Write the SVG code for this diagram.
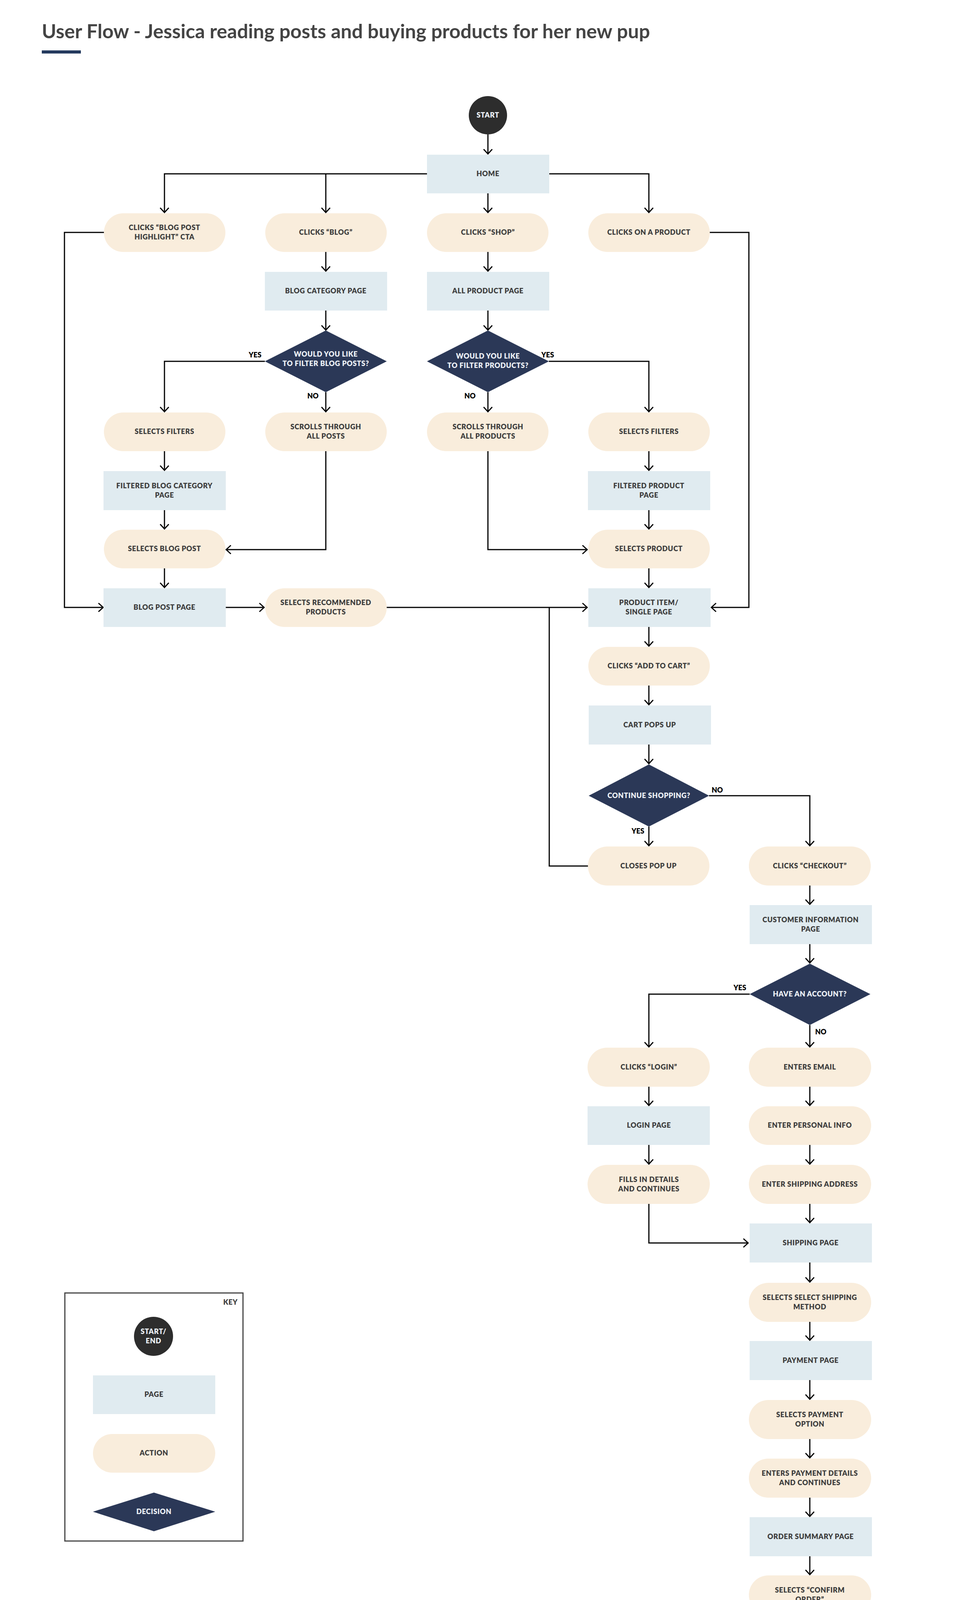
<svg xmlns="http://www.w3.org/2000/svg" width="2460" height="4588" viewBox="0 0 2460 4588">
<defs>
<marker id="ah" viewBox="-2 -13 16 26" refX="12" refY="0" markerWidth="16" markerHeight="26" markerUnits="userSpaceOnUse" orient="auto"><path d="M0,-11 L12,0 L0,11" fill="none" stroke="#000" stroke-width="3"/></marker>
<style>
.pg{fill:#e0ebf0}.ac{fill:#f9eddc}.dc{fill:#2b3857}.se{fill:#2d2d2d}
.t{font-family:Lato,"Noto Sans",sans-serif;font-weight:800;font-size:18px;letter-spacing:0.6px;fill:#3d3d3d;text-anchor:middle}
.tw{font-family:Lato,"Noto Sans",sans-serif;font-weight:800;font-size:18px;letter-spacing:0.6px;fill:#eef2f7;text-anchor:middle}
.lb{font-family:Lato,"Noto Sans",sans-serif;font-weight:800;font-size:18px;fill:#000;text-anchor:middle}
.c{fill:none;stroke:#000;stroke-width:3}
</style>
</defs>
<rect width="2460" height="4588" fill="#fff"/>
<text x="107" y="98" font-family="Lato,'Noto Sans',sans-serif" font-weight="700" font-size="49" fill="#444" textLength="1557" lengthAdjust="spacingAndGlyphs">User Flow - Jessica reading posts and buying products for her new pup</text>
<rect x="107" y="129" width="100" height="8" fill="#243a5e"/>

<g id="connectors" class="c">
<path d="M1249 344V394" marker-end="url(#ah)"/>
<path d="M1093 445H421V544" marker-end="url(#ah)"/>
<path d="M834 445V544" marker-end="url(#ah)"/>
<path d="M1249 495V544" marker-end="url(#ah)"/>
<path d="M1406 445H1661V544" marker-end="url(#ah)"/>
<path d="M266 595H165V1555H264" marker-end="url(#ah)"/>
<path d="M1816 595H1917V1555H1821" marker-end="url(#ah)"/>
<path d="M834 645V694" marker-end="url(#ah)"/>
<path d="M1249 645V694" marker-end="url(#ah)"/>
<path d="M834 795V845" marker-end="url(#ah)"/>
<path d="M1249 795V845" marker-end="url(#ah)"/>
<path d="M678 925H421V1054" marker-end="url(#ah)"/>
<path d="M834 1004V1054" marker-end="url(#ah)"/>
<path d="M1249 1004V1054" marker-end="url(#ah)"/>
<path d="M1405 925H1661V1054" marker-end="url(#ah)"/>
<path d="M421 1155V1204" marker-end="url(#ah)"/>
<path d="M1661 1155V1204" marker-end="url(#ah)"/>
<path d="M421 1306V1354" marker-end="url(#ah)"/>
<path d="M1661 1306V1354" marker-end="url(#ah)"/>
<path d="M834 1155V1407H579" marker-end="url(#ah)"/>
<path d="M1249 1155V1407H1503" marker-end="url(#ah)"/>
<path d="M421 1455V1504" marker-end="url(#ah)"/>
<path d="M1661 1455V1504" marker-end="url(#ah)"/>
<path d="M577 1555H676" marker-end="url(#ah)"/>
<path d="M989 1555H1503" marker-end="url(#ah)"/>
<path d="M1506 2217H1406V1555"/>
<path d="M1661 1605V1654" marker-end="url(#ah)"/>
<path d="M1661 1755V1804" marker-end="url(#ah)"/>
<path d="M1661 1906V1955" marker-end="url(#ah)"/>
<path d="M1661 2116V2165" marker-end="url(#ah)"/>
<path d="M1815 2037H2073V2165" marker-end="url(#ah)"/>
<path d="M2073 2267V2315" marker-end="url(#ah)"/>
<path d="M2073 2417V2465" marker-end="url(#ah)"/>
<path d="M1919 2545H1661V2680" marker-end="url(#ah)"/>
<path d="M2073 2624V2680" marker-end="url(#ah)"/>
<path d="M1661 2782V2830" marker-end="url(#ah)"/>
<path d="M1661 2931V2980" marker-end="url(#ah)"/>
<path d="M1661 3082V3182H1915" marker-end="url(#ah)"/>
<path d="M2073 2782V2830" marker-end="url(#ah)"/>
<path d="M2073 2931V2980" marker-end="url(#ah)"/>
<path d="M2073 3082V3130" marker-end="url(#ah)"/>
<path d="M2073 3232V3282" marker-end="url(#ah)"/>
<path d="M2073 3384V3431" marker-end="url(#ah)"/>
<path d="M2073 3533V3582" marker-end="url(#ah)"/>
<path d="M2073 3684V3732" marker-end="url(#ah)"/>
<path d="M2073 3834V3882" marker-end="url(#ah)"/>
<path d="M2073 3984V4031" marker-end="url(#ah)"/>
<path d="M2073 4133V4182" marker-end="url(#ah)"/>
<path d="M2073 4284V4331" marker-end="url(#ah)"/>
</g>
<g id="labels">
<text class="lb" x="653" y="915">YES</text>
<text class="lb" x="801" y="1020">NO</text>
<text class="lb" x="1402" y="915">YES</text>
<text class="lb" x="1203" y="1020">NO</text>
<text class="lb" x="1836" y="2029">NO</text>
<text class="lb" x="1633" y="2134">YES</text>
<text class="lb" x="1894" y="2535">YES</text>
<text class="lb" x="2101" y="2648">NO</text>
</g>

<g id="start"><circle class="se" cx="1249" cy="295" r="49"/><text class="tw" x="1249" y="301">START</text></g>
<g id="home"><rect class="pg" x="1093" y="396" width="313" height="99"/><text class="t" x="1249" y="451">HOME</text></g>
<g id="clicks-highlight"><rect class="ac" x="266" y="546" width="311" height="99" rx="49.5"/><text class="t" x="421" y="589">CLICKS “BLOG POST</text><text class="t" x="421" y="613">HIGHLIGHT” CTA</text></g>
<g id="clicks-blog"><rect class="ac" x="679" y="546" width="311" height="99" rx="49.5"/><text class="t" x="834" y="601">CLICKS “BLOG”</text></g>
<g id="clicks-shop"><rect class="ac" x="1093" y="546" width="311" height="99" rx="49.5"/><text class="t" x="1249" y="601">CLICKS “SHOP”</text></g>
<g id="clicks-product"><rect class="ac" x="1506" y="546" width="311" height="99" rx="49.5"/><text class="t" x="1661" y="601">CLICKS ON A PRODUCT</text></g>
<g id="blog-category"><rect class="pg" x="678" y="696" width="313" height="99"/><text class="t" x="834" y="751">BLOG CATEGORY PAGE</text></g>
<g id="all-product"><rect class="pg" x="1093" y="696" width="313" height="99"/><text class="t" x="1249" y="751">ALL PRODUCT PAGE</text></g>
<g id="filter-blog"><polygon class="dc" points="834,846 990,925 834,1004 678,925"/><text class="tw" x="834" y="913">WOULD YOU LIKE</text><text class="tw" x="834" y="937">TO FILTER BLOG POSTS?</text></g>
<g id="filter-products"><polygon class="dc" points="1249,846 1405,925 1249,1004 1093,925"/><text class="tw" x="1249" y="918">WOULD YOU LIKE</text><text class="tw" x="1249" y="942">TO FILTER PRODUCTS?</text></g>
<g id="selects-filters-a"><rect class="ac" x="266" y="1056" width="311" height="99" rx="49.5"/><text class="t" x="421" y="1111">SELECTS FILTERS</text></g>
<g id="scroll-posts"><rect class="ac" x="679" y="1056" width="311" height="99" rx="49.5"/><text class="t" x="834" y="1099">SCROLLS THROUGH</text><text class="t" x="834" y="1123">ALL POSTS</text></g>
<g id="scroll-products"><rect class="ac" x="1093" y="1056" width="311" height="99" rx="49.5"/><text class="t" x="1249" y="1099">SCROLLS THROUGH</text><text class="t" x="1249" y="1123">ALL PRODUCTS</text></g>
<g id="selects-filters-d"><rect class="ac" x="1506" y="1056" width="311" height="99" rx="49.5"/><text class="t" x="1661" y="1111">SELECTS FILTERS</text></g>
<g id="filtered-blog"><rect class="pg" x="265" y="1206" width="313" height="100"/><text class="t" x="421" y="1250">FILTERED BLOG CATEGORY</text><text class="t" x="421" y="1274">PAGE</text></g>
<g id="filtered-product"><rect class="pg" x="1505" y="1206" width="313" height="100"/><text class="t" x="1661" y="1250">FILTERED PRODUCT</text><text class="t" x="1661" y="1274">PAGE</text></g>
<g id="selects-blog-post"><rect class="ac" x="266" y="1356" width="311" height="99" rx="49.5"/><text class="t" x="421" y="1411">SELECTS BLOG POST</text></g>
<g id="selects-product"><rect class="ac" x="1506" y="1356" width="311" height="99" rx="49.5"/><text class="t" x="1661" y="1411">SELECTS PRODUCT</text></g>
<g id="blog-post-page"><rect class="pg" x="265" y="1506" width="313" height="99"/><text class="t" x="421" y="1561">BLOG POST PAGE</text></g>
<g id="selects-recommended"><rect class="ac" x="679" y="1506" width="311" height="99" rx="49.5"/><text class="t" x="834" y="1549">SELECTS RECOMMENDED</text><text class="t" x="834" y="1573">PRODUCTS</text></g>
<g id="product-item"><rect class="pg" x="1506" y="1506" width="313" height="99"/><text class="t" x="1661" y="1549">PRODUCT ITEM/</text><text class="t" x="1661" y="1573">SINGLE PAGE</text></g>
<g id="add-to-cart"><rect class="ac" x="1506" y="1656" width="311" height="99" rx="49.5"/><text class="t" x="1661" y="1711">CLICKS “ADD TO CART”</text></g>
<g id="cart-pops"><rect class="pg" x="1507" y="1806" width="313" height="100"/><text class="t" x="1663" y="1862">CART POPS UP</text></g>
<g id="continue-shopping"><polygon class="dc" points="1661,1957 1815,2037 1661,2116 1507,2037"/><text class="tw" x="1661" y="2043">CONTINUE SHOPPING?</text></g>
<g id="closes-pop-up"><rect class="ac" x="1505" y="2167" width="311" height="100" rx="50"/><text class="t" x="1660" y="2223">CLOSES POP UP</text></g>
<g id="clicks-checkout"><rect class="ac" x="1917" y="2167" width="312" height="100" rx="50"/><text class="t" x="2073" y="2223">CLICKS “CHECKOUT”</text></g>
<g id="customer-info"><rect class="pg" x="1919" y="2317" width="313" height="100"/><text class="t" x="2075" y="2361">CUSTOMER INFORMATION</text><text class="t" x="2075" y="2385">PAGE</text></g>
<g id="have-account"><polygon class="dc" points="2073,2467 2228,2545 2073,2624 1919,2545"/><text class="tw" x="2073" y="2551">HAVE AN ACCOUNT?</text></g>
<g id="clicks-login"><rect class="ac" x="1504" y="2682" width="313" height="100" rx="50"/><text class="t" x="1661" y="2738">CLICKS “LOGIN”</text></g>
<g id="login-page"><rect class="pg" x="1504" y="2832" width="313" height="99"/><text class="t" x="1661" y="2887">LOGIN PAGE</text></g>
<g id="fills-details"><rect class="ac" x="1504" y="2982" width="313" height="100" rx="50"/><text class="t" x="1661" y="3026">FILLS IN DETAILS</text><text class="t" x="1661" y="3050">AND CONTINUES</text></g>
<g id="enters-email"><rect class="ac" x="1917" y="2682" width="313" height="100" rx="50"/><text class="t" x="2073" y="2738">ENTERS EMAIL</text></g>
<g id="personal-info"><rect class="ac" x="1917" y="2832" width="313" height="99" rx="49.5"/><text class="t" x="2073" y="2887">ENTER PERSONAL INFO</text></g>
<g id="shipping-address"><rect class="ac" x="1917" y="2982" width="313" height="100" rx="50"/><text class="t" x="2073" y="3038">ENTER SHIPPING ADDRESS</text></g>
<g id="shipping-page"><rect class="pg" x="1919" y="3132" width="313" height="100"/><text class="t" x="2075" y="3188">SHIPPING PAGE</text></g>
<g id="shipping-method"><rect class="ac" x="1917" y="3284" width="313" height="100" rx="50"/><text class="t" x="2073" y="3328">SELECTS SELECT SHIPPING</text><text class="t" x="2073" y="3352">METHOD</text></g>
<g id="payment-page"><rect class="pg" x="1919" y="3433" width="313" height="100"/><text class="t" x="2075" y="3489">PAYMENT PAGE</text></g>
<g id="payment-option"><rect class="ac" x="1917" y="3584" width="313" height="100" rx="50"/><text class="t" x="2073" y="3628">SELECTS PAYMENT</text><text class="t" x="2073" y="3652">OPTION</text></g>
<g id="payment-details"><rect class="ac" x="1917" y="3734" width="313" height="100" rx="50"/><text class="t" x="2073" y="3778">ENTERS PAYMENT DETAILS</text><text class="t" x="2073" y="3802">AND CONTINUES</text></g>
<g id="order-summary"><rect class="pg" x="1919" y="3884" width="313" height="100"/><text class="t" x="2075" y="3940">ORDER SUMMARY PAGE</text></g>
<g id="confirm-order"><rect class="ac" x="1917" y="4033" width="313" height="100" rx="50"/><text class="t" x="2073" y="4077">SELECTS “CONFIRM</text><text class="t" x="2073" y="4101">ORDER”</text></g>
<g id="confirmation-page"><rect class="pg" x="1919" y="4184" width="313" height="100"/><text class="t" x="2075" y="4240">CONFIRMATION PAGE</text></g>
<g id="end"><circle class="se" cx="2073" cy="4383" r="50"/><text class="tw" x="2073" y="4389">END</text></g>

<g id="key">
<rect x="166" y="3310" width="456" height="635" fill="none" stroke="#444" stroke-width="3"/>
<text class="t" x="590" y="3340">KEY</text>
<circle class="se" cx="393" cy="3421" r="50"/><text class="tw" x="393" y="3415">START/</text><text class="tw" x="393" y="3439">END</text>
<rect class="pg" x="238" y="3521" width="313" height="99"/><text class="t" x="394" y="3576">PAGE</text>
<rect class="ac" x="238" y="3671" width="313" height="99" rx="49.5"/><text class="t" x="394" y="3726">ACTION</text>
<polygon class="dc" points="394,3821 551,3870 394,3920 238,3870"/><text class="tw" x="394" y="3876">DECISION</text>
</g>
</svg>
